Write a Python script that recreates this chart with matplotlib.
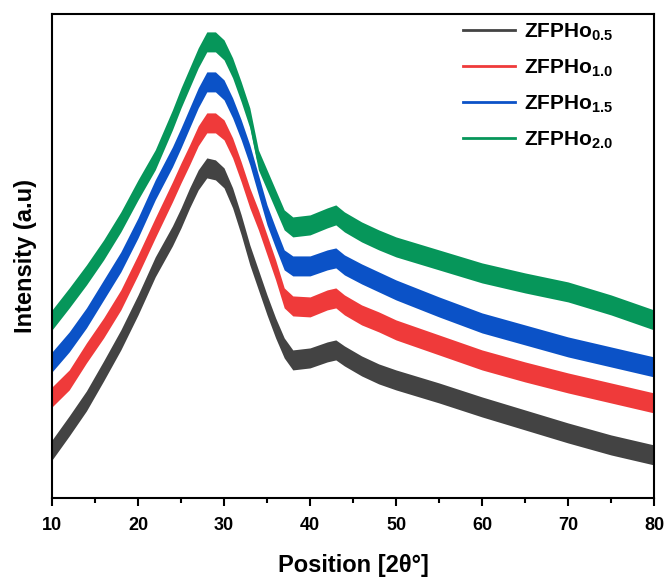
import matplotlib.pyplot as plt

plt.rcParams['font.family'] = ['Liberation Sans', 'DejaVu Sans']
plt.rcParams['mathtext.fontset'] = 'custom'
plt.rcParams['mathtext.bf'] = 'Liberation Sans:bold'
plt.rcParams['mathtext.rm'] = 'Liberation Sans'

# 2theta positions (deg)
pos = [10, 12, 14, 16, 18, 20, 22, 24, 25, 26, 27, 28, 29, 30, 31, 32, 33, 34,
       35, 36, 37, 38, 40, 42, 43, 44, 46, 48, 50, 55, 60, 65, 70, 75, 80]

# intensity (a.u.)
zfpho_05 = [48, 72, 97, 127, 158, 193, 231, 262, 280, 300, 318, 330, 328, 320,
            300, 273, 243, 218, 193, 170, 150, 138, 140, 146, 148, 142, 132, 124,
            118, 105, 91, 78, 65, 53, 43]
zfpho_10 = [101, 118, 145, 170, 198, 233, 270, 306, 325, 343, 362, 375, 375, 368,
            350, 326, 300, 278, 253, 228, 200, 192, 191, 198, 200, 193, 183, 176,
            168, 153, 138, 126, 115, 105, 95]
zfpho_15 = [136, 156, 180, 208, 236, 270, 308, 341, 360, 380, 400, 416, 416, 408,
            390, 368, 343, 313, 283, 260, 238, 232, 232, 238, 240, 233, 224, 216,
            208, 191, 175, 163, 151, 141, 131]
zfpho_20 = [178, 200, 223, 248, 276, 308, 338, 378, 400, 420, 440, 456, 456, 448,
            430, 406, 380, 338, 318, 298, 278, 271, 273, 280, 283, 276, 266, 258,
            251, 238, 225, 215, 206, 193, 178]

noise = 10  # half-width of the noisy trace

series = [
    (zfpho_05, r'ZFPHo$_{\mathbf{0.5}}$', '#434343'),
    (zfpho_10, r'ZFPHo$_{\mathbf{1.0}}$', '#ef3a3a'),
    (zfpho_15, r'ZFPHo$_{\mathbf{1.5}}$', '#0b52c7'),
    (zfpho_20, r'ZFPHo$_{\mathbf{2.0}}$', '#06965a'),
]

fig = plt.figure(figsize=(6.67, 5.79), dpi=100)
ax = fig.add_axes([0.078, 0.140, 0.9025, 0.836])

for vals, label, color in series:
    lo = [v - noise for v in vals]
    hi = [v + noise for v in vals]
    ax.fill_between(pos, lo, hi, color=color, linewidth=0)
    ax.plot(pos, vals, color=color, lw=2, label=label)

ax.set_xlim(10, 80)
ax.set_ylim(0, 484)
ax.set_xticks(range(10, 81, 10))
ax.set_xticks(range(15, 80, 10), minor=True)
ax.set_yticks([])
ax.tick_params(axis='x', which='major', direction='out', length=6, width=1.5,
               labelsize=13, pad=8)
ax.tick_params(axis='x', which='minor', direction='out', length=3.5, width=1.5)
for lab in ax.get_xticklabels():
    lab.set_fontweight('bold')
for sp in ax.spines.values():
    sp.set_linewidth(1.5)

ax.set_xlabel('Position [2θ°]', fontsize=17, fontweight='bold', labelpad=14)
ax.set_ylabel('Intensity (a.u)', fontsize=17, fontweight='bold', labelpad=11)

leg = ax.legend(loc='upper left', bbox_to_anchor=(0.683, 0.985), frameon=False,
                fontsize=15, handlelength=2.5, handletextpad=0.4,
                labelspacing=0.69, borderpad=0, borderaxespad=0)
for t in leg.get_texts():
    t.set_fontweight('bold')
for h in leg.get_lines():
    h.set_linewidth(2)

fig.savefig('out.png', dpi=100)
